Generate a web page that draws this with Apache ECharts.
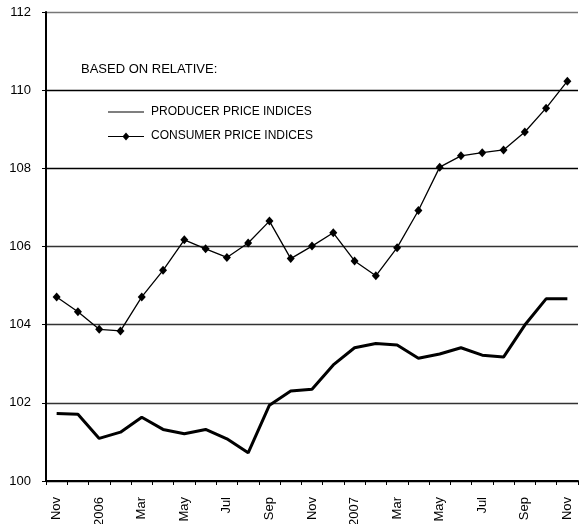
<!DOCTYPE html>
<html><head><meta charset="utf-8">
<script src="https://cdn.jsdelivr.net/npm/echarts@6/dist/echarts.min.js"></script>
<style>html,body{margin:0;padding:0;background:#fff}#c{width:579px;height:524px}</style>
</head><body><div id="c"></div>
<script>
var categories = ['Nov','Dec','2006','Feb','Mar','Apr','May','Jun','Jul','Aug','Sep','Oct','Nov','Dec','2007','Feb','Mar','Apr','May','Jun','Jul','Aug','Sep','Oct','Nov'];
var producer = [101.73,101.71,101.09,101.25,101.63,101.32,101.21,101.32,101.08,100.72,101.94,102.30,102.35,102.97,103.41,103.52,103.48,103.14,103.25,103.41,103.22,103.17,103.99,104.66,104.66];
var consumer = [104.71,104.33,103.88,103.84,104.71,105.39,106.17,105.94,105.72,106.09,106.65,105.69,106.01,106.35,105.63,105.25,105.97,106.92,108.03,108.32,108.40,108.47,108.93,109.54,110.23];
var yTicks = {min:100, max:112, interval:2};
var legendTitle = 'BASED ON RELATIVE:';
var seriesNames = ['PRODUCER PRICE INDICES','CONSUMER PRICE INDICES'];

var chart = echarts.init(document.getElementById('c'), null, {renderer:'canvas'});
var font = 'Arial, "Liberation Sans", sans-serif';
chart.setOption({
  animation:false,
  backgroundColor:'#fff',
  grid:{left:46, right:1, top:12, bottom:43, containLabel:false, outerBoundsMode:'none'},
  xAxis:{
    type:'category', data:categories, boundaryGap:true,
    axisLine:{lineStyle:{color:'#000', width:2}},
    axisTick:{show:true, length:4, interval:0, lineStyle:{color:'#000', width:1}},
    axisLabel:{interval:1, rotate:90, margin:16, color:'#000', fontSize:13, fontFamily:font, hideOverlap:false},
    splitLine:{show:false}
  },
  yAxis:{
    type:'value', min:yTicks.min, max:yTicks.max, interval:yTicks.interval,
    axisLine:{show:true, lineStyle:{color:'#000', width:2}},
    axisTick:{show:true, length:4, lineStyle:{color:'#000'}},
    axisLabel:{color:'#000', fontSize:13, fontFamily:font, margin:15},
    splitLine:{show:true, lineStyle:{color:['#000','#333','#333','#333','#000','#000','#777'], width:1.3}}
  },
  graphic:[
    {type:'text', left:81, top:63, style:{text:legendTitle, font:'13px '+font, fill:'#000'}},
    {type:'line', shape:{x1:108,y1:112,x2:144,y2:112}, style:{stroke:'#000', lineWidth:1.2}},
    {type:'text', left:151, top:105.5, style:{text:seriesNames[0], font:'12px '+font, fill:'#000'}},
    {type:'line', shape:{x1:108,y1:136.5,x2:144,y2:136.5}, style:{stroke:'#000', lineWidth:1.2}},
    {type:'polygon', shape:{points:[[126,132.5],[129.5,136.5],[126,140.5],[122.5,136.5]]}, style:{fill:'#000'}},
    {type:'text', left:151, top:130, style:{text:seriesNames[1], font:'12px '+font, fill:'#000'}}
  ],
  series:[
    {name:seriesNames[0], type:'line', data:producer, symbol:'none', lineStyle:{color:'#000', width:3}, z:3},
    {name:seriesNames[1], type:'line', data:consumer, symbol:'diamond', symbolSize:[8,9], showSymbol:true,
     itemStyle:{color:'#000'}, lineStyle:{color:'#000', width:1.3}, z:4}
  ]
});
</script></body></html>
